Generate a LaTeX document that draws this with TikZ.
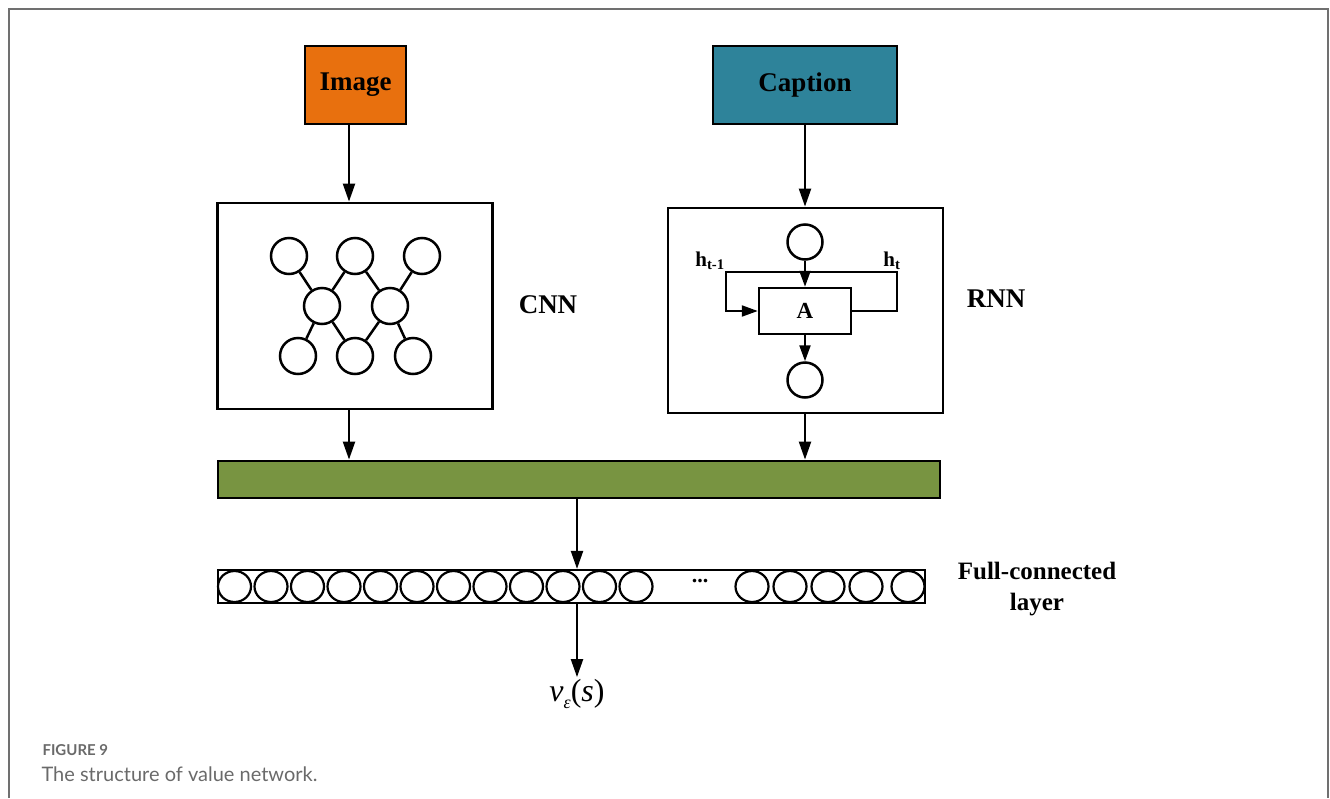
\documentclass[tikz,border=0pt]{standalone}
\usepackage{fontspec}
\setmainfont{Liberation Serif}
\newfontfamily\capfont{Lato}
\usetikzlibrary{arrows.meta,shapes.geometric}
\definecolor{orng}{HTML}{E8700E}
\definecolor{teal2}{HTML}{2E839A}
\definecolor{grn}{HTML}{789441}
\definecolor{framegray}{HTML}{707070}
\definecolor{capgray}{HTML}{6A6A6A}
\begin{document}
\begin{tikzpicture}[x=1pt,y=-1pt,
  box/.style={draw,line width=2.8pt,inner sep=0pt},
  arr/.style={line width=2.2pt,-{Triangle[length=18pt,width=12pt]}},
  sarr/.style={line width=2.2pt,-{Triangle[length=16pt,width=11pt]}},
  ln/.style={line width=2.5pt},
  neuron/.style={circle,draw,line width=2.5pt,minimum size=36pt,inner sep=0pt},
  fcn/.style={ellipse,draw,line width=2.2pt,minimum width=33pt,minimum height=31pt,inner sep=0pt},
  lbl/.style={font=\fontsize{27}{30}\selectfont\bfseries},
  frameline/.style={draw=framegray,line width=2.4pt}]
\useasboundingbox (0,0) rectangle (1330,798);
\draw[frameline] (9,798) -- (9,9) -- (1328,9) -- (1328,798);

% input boxes
\node[box,fill=orng,minimum width=101pt,minimum height=78pt,lbl] (img) at (355.5,85) {Image};
\node[box,fill=teal2,minimum width=184pt,minimum height=78pt,lbl] (cap) at (805,85) {Caption};

% CNN / RNN boxes
\node[box,minimum width=275pt,minimum height=206pt] (cnn) at (355,306) {};
\node[box,minimum width=275pt,minimum height=205pt] (rnn) at (805.5,310.5) {};
\node[lbl] (cnnl) at (548,305) {CNN};
\node[lbl] (rnnl) at (996,299) {RNN};

% CNN neurons
\node[neuron] (c1) at (289,256) {};
\node[neuron] (c2) at (355,256) {};
\node[neuron] (c3) at (422,256) {};
\node[neuron] (c4) at (322,306) {};
\node[neuron] (c5) at (390,306) {};
\node[neuron] (c6) at (298,356) {};
\node[neuron] (c7) at (355,356) {};
\node[neuron] (c8) at (413,356) {};
\draw[ln] (c1) -- (c4);
\draw[ln] (c2) -- (c4);
\draw[ln] (c2) -- (c5);
\draw[ln] (c3) -- (c5);
\draw[ln] (c4) -- (c6);
\draw[ln] (c4) -- (c7);
\draw[ln] (c5) -- (c7);
\draw[ln] (c5) -- (c8);

% RNN internals
\node[neuron,minimum size=35pt] (rin) at (805,242) {};
\node[box,line width=2.5pt,minimum width=92pt,minimum height=46pt,font=\fontsize{23}{25}\selectfont\bfseries] (A) at (805,311) {A};
\node[neuron,minimum size=35pt] (rout) at (805,380) {};
\coordinate (lr) at (897,272);
\coordinate (ll) at (726,272);
\draw[sarr] (rin.south) -- (A.north);
\draw[sarr] (A.south) -- (rout.north);
\draw[sarr] (A.east) -| (lr) -- (ll) |- (A.west);
\node[font=\fontsize{21}{22}\selectfont\bfseries] (hprev) at (710,261) {h\textsubscript{t-1}};
\node[font=\fontsize{21}{22}\selectfont\bfseries] (hcur) at (892,261) {h\textsubscript{t}};

% merge bar
\node[box,fill=grn,minimum width=722pt,minimum height=37pt] (bar) at (579,479.5) {};

% full-connected layer
\node[box,line width=2.2pt,minimum width=707pt,minimum height=33pt] (fc) at (571.5,586.5) {};
\foreach \i in {0,...,11} {
  \node[fcn] (f\i) at ({234.5+36.5*\i},586.5) {};
}
\foreach \x [count=\j] in {752,790,828,866,908} {
  \node[fcn] (g\j) at (\x,586.5) {};
}
\node[font=\fontsize{22}{24}\selectfont\bfseries] (dots) at (700,581) {...};
\node[font=\fontsize{25}{31}\selectfont\bfseries,align=center] (fcl) at (1037,589) {Full-connected\\layer};

% output
\node[inner sep=2pt,font=\fontsize{32}{34}\selectfont] (out) at (577,694) {\itshape v\raisebox{-7pt}{\fontsize{18}{18}\selectfont ε}\upshape(\itshape s\upshape)};

% connectors
\coordinate (ax) at (349,0);
\coordinate (rx) at (805,0);
\coordinate (mx) at (577,0);
\draw[arr] (img.south -| ax) -- (cnn.north -| ax);
\draw[arr] (cap.south -| rx) -- (rnn.north -| rx);
\draw[arr] (cnn.south -| ax) -- (bar.north -| ax);
\draw[arr] (rnn.south -| rx) -- (bar.north -| rx);
\draw[arr] (bar.south -| mx) -- (fc.north -| mx);
\draw[arr] (fc.south -| mx) -- (out.north -| mx);

% caption
\node[anchor=west,text=capgray,font=\capfont\bfseries\fontsize{15}{18}\selectfont] (fig) at (39,750) {FIGURE 9};
\node[anchor=west,text=capgray,font=\capfont\fontsize{20}{24}\selectfont] (figtxt) at (38,774) {The structure of value network.};
\end{tikzpicture}
\end{document}
